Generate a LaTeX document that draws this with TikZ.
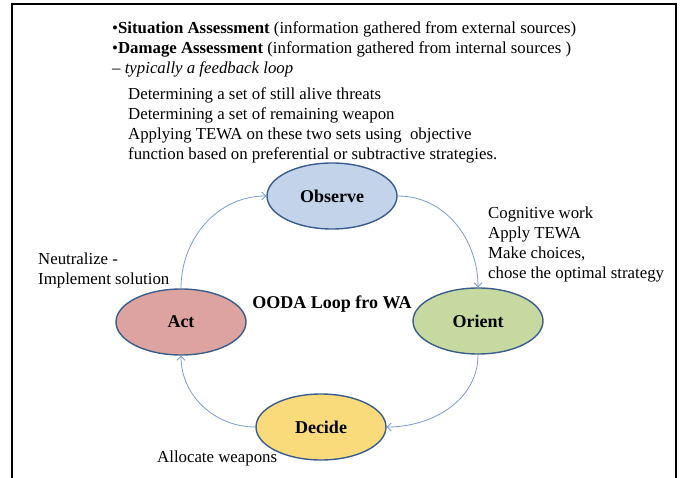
\documentclass[tikz,border=0pt]{standalone}
\usepackage{fontspec}
\setmainfont{Liberation Serif}
\usetikzlibrary{shapes.geometric,arrows.meta}
\definecolor{stageline}{HTML}{3A5E8C}
\definecolor{loopblue}{HTML}{7A9CCC}
\definecolor{obsfill}{HTML}{C2D3EA}
\definecolor{orifill}{HTML}{C5D9A0}
\definecolor{decfill}{HTML}{FADB7C}
\definecolor{actfill}{HTML}{DCA3A0}

\begin{document}
\begin{tikzpicture}[x=1pt,y=-1pt]
		\tikzstyle{every node}+=[inner sep=0pt]
		\tikzstyle{stage}=[ellipse, draw=stageline, line width=1.4pt, minimum width=130pt, minimum height=66pt, font=\fontsize{18}{20}\selectfont\bfseries]
		\tikzstyle{loop}=[draw=loopblue, line width=0.8pt, -{Straight Barb[length=4pt,width=8pt]}]
		\tikzstyle{note}=[anchor=west, align=left, font=\fontsize{16.8}{20}\selectfont]
		\useasboundingbox (0,0) rectangle (682,478);
		\draw [black, line width=2pt] (12,482) -- (12,4) -- (676,4) -- (676,482);
		\node [stage, fill=obsfill] (observe) at (332,196) {Observe};
		\node [stage, fill=orifill] (orient) at (478,321) {Orient};
		\node [stage, fill=decfill] (decide) at (321,427) {Decide};
		\node [stage, fill=actfill] (act) at (181,322) {Act};
		\node [font=\fontsize{18}{20}\selectfont\bfseries] (title) at (332,304) {OODA Loop fro WA};
		\draw [loop] (observe.east) to [out=0, in=90] (orient.north);
		\draw [loop] (orient.south) to [out=-90, in=0] (decide.east);
		\draw [loop] (decide.west) to [out=180, in=-90] (act.south);
		\draw [loop] (act.north) to [out=90, in=180] (observe.west);
		\node [note] (assess) at (112,49) {\textbullet\textbf{Situation Assessment} (information gathered from external sources)\\\textbullet\textbf{Damage Assessment} (information gathered from internal sources )\\-- \textit{typically a feedback loop}};
		\node [note] (observenote) at (128,125) {Determining a set of still alive threats\\Determining a set of remaining weapon\\Applying TEWA on these two sets using~ objective\\function based on preferential or subtractive strategies.};
		\node [note] (orientnote) at (488,244) {Cognitive work\\Apply TEWA\\Make choices,\\chose the optimal strategy};
		\node [note] (actnote) at (38,270) {Neutralize -\\Implement solution};
		\node [note] (decidenote) at (157,458) {Allocate weapons};
\end{tikzpicture}
\end{document}
